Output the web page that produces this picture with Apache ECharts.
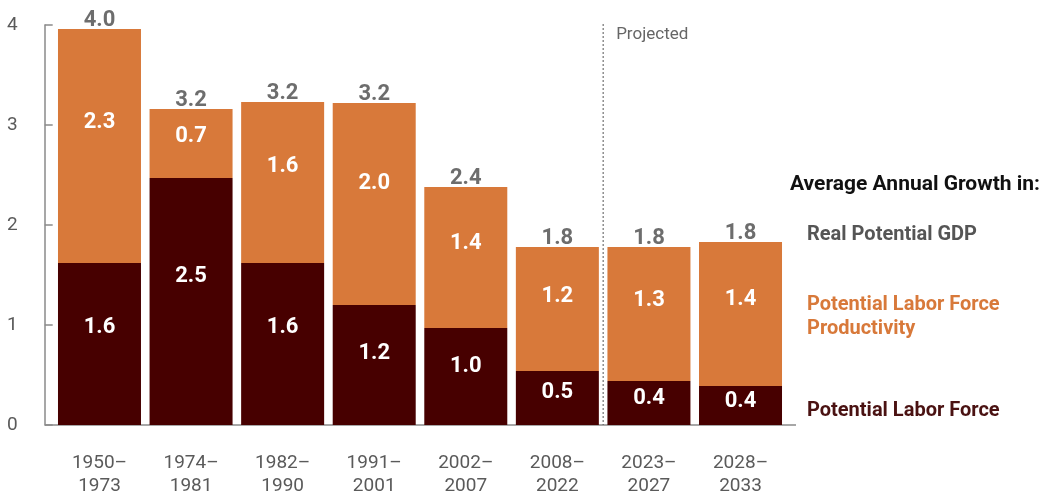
<!DOCTYPE html>
<html>
<head>
<meta charset="utf-8">
<script src="https://cdn.jsdelivr.net/npm/echarts@6/dist/echarts.min.js"></script>
<style>
  html, body { margin: 0; padding: 0; background: #ffffff; }
  #chart { width: 1042px; height: 498px; }
</style>
</head>
<body>
<div id="chart"></div>
<script>
// Periods on the horizontal axis
const periods = ['1950–\n1973', '1974–\n1981', '1982–\n1990', '1991–\n2001',
                 '2002–\n2007', '2008–\n2022', '2023–\n2027', '2028–\n2033'];
// Average annual growth, percent
const laborForce   = [1.62, 2.47, 1.62, 1.20, 0.97, 0.54, 0.44, 0.39];
const productivity = [2.34, 0.69, 1.61, 2.02, 1.41, 1.24, 1.34, 1.44];
const potentialGDP = laborForce.map((v, i) => +(v + productivity[i]).toFixed(2));
const yTicks = [0, 1, 2, 3, 4];
const firstProjected = 6;

const ORANGE = '#d8793a';
const MAROON = '#470000';
const FONT = 'Roboto, "Noto Sans", sans-serif';

const chart = echarts.init(document.getElementById('chart'), null, { renderer: 'canvas' });

const segLabel = {
  show: true,
  position: ['50%', '40%'],
  align: 'center',
  verticalAlign: 'middle',
  color: '#ffffff',
  fontFamily: FONT,
  fontWeight: 'bold',
  fontSize: 22,
  formatter: p => p.value.toFixed(1)
};

chart.setOption({
  animation: false,
  grid: { left: 53.7, right: 255.7, top: 25, bottom: 72 },
  xAxis: {
    type: 'category',
    data: periods,
    axisLine: { show: false },
    axisTick: { show: false },
    axisLabel: {
      color: '#5a5a5a', fontFamily: FONT, fontSize: 19, lineHeight: 23, margin: 27
    }
  },
  yAxis: {
    type: 'value',
    min: yTicks[0], max: yTicks[yTicks.length - 1], interval: 1,
    offset: 9,
    splitLine: { show: false },
    axisLine: { show: true, lineStyle: { color: '#8a8a8a', width: 1.5 } },
    axisTick: { show: true, inside: true, length: 8, lineStyle: { color: '#8a8a8a', width: 1.5 } },
    axisLabel: { color: '#5a5a5a', fontFamily: FONT, fontSize: 19, margin: 27 }
  },
  series: [
    {
      name: 'Potential Labor Force',
      type: 'bar', stack: 'gdp', barWidth: 83,
      itemStyle: { color: MAROON },
      label: segLabel,
      data: laborForce
    },
    {
      name: 'Potential Labor Force Productivity',
      type: 'bar', stack: 'gdp', barWidth: 83,
      itemStyle: { color: ORANGE },
      label: segLabel,
      data: productivity
    },
    {
      name: 'Real Potential GDP',
      type: 'scatter',
      symbolSize: 0.1,
      itemStyle: { color: 'transparent' },
      label: {
        show: true, position: 'top', distance: -3,
        color: '#484848', fontFamily: FONT, fontWeight: 'bold', fontSize: 22,
        formatter: p => p.value.toFixed(1)
      },
      data: potentialGDP,
      z: 5
    }
  ]
});

// Baseline, projection divider and key, placed from the axes' own scales
const y0 = chart.convertToPixel({ yAxisIndex: 0 }, 0);
const yTop = chart.convertToPixel({ yAxisIndex: 0 }, yTicks[yTicks.length - 1]);
const xDiv = (chart.convertToPixel({ xAxisIndex: 0 }, firstProjected - 1) +
              chart.convertToPixel({ xAxisIndex: 0 }, firstProjected)) / 2;

const keyText = (left, top, text, color, size) => ({
  type: 'text', left: left, top: top,
  style: { text: text, fill: color, font: 'bold ' + size + 'px ' + FONT, lineHeight: 24 }
});

chart.setOption({
  graphic: [
    { type: 'line', shape: { x1: 45, y1: y0, x2: 796, y2: y0 },
      style: { stroke: '#8a8a8a', lineWidth: 1.5 } },
    { type: 'line', shape: { x1: xDiv, y1: yTop - 1, x2: xDiv, y2: y0 },
      style: { stroke: '#555555', lineWidth: 1, lineDash: [2, 2] } },
    { type: 'text', left: xDiv + 13, top: 26,
      style: { text: 'Projected', fill: '#666666', font: '17px ' + FONT } },
    keyText(790, 173, 'Average Annual Growth in:', '#111111', 21),
    keyText(807, 223, 'Real Potential GDP', '#555555', 20),
    keyText(807, 293, 'Potential Labor Force\nProductivity', ORANGE, 20),
    keyText(807, 399, 'Potential Labor Force', '#4a1212', 20)
  ]
});
</script>
</body>
</html>
